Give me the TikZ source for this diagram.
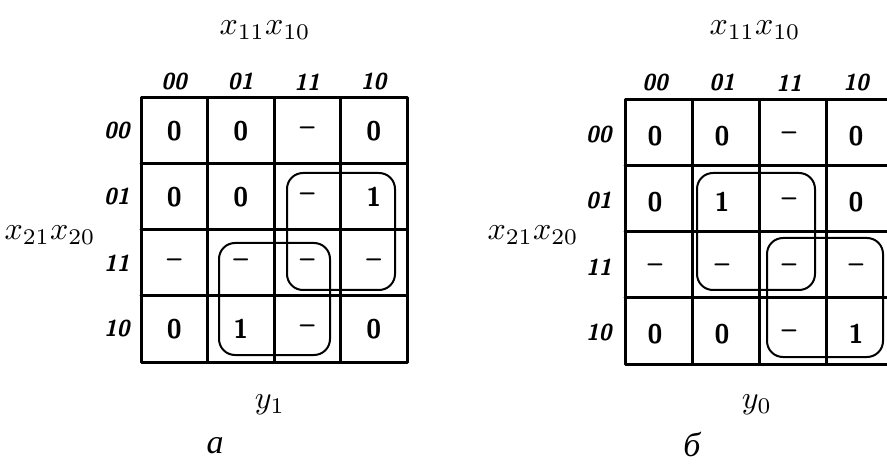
\documentclass[tikz,border=0pt]{standalone}
\usepackage{fontspec}
\newfontfamily\cyrfont{Liberation Serif}
\newcommand\dcare{\textendash}
\newcommand\bigvar[1]{\scalebox{3.2}{$#1$}}
\begin{document}
\begin{tikzpicture}[x=1pt,y=-1pt,line join=round,line cap=round,
	grid/.style={line width=3pt},
	kloop/.style={line width=2pt,rounded corners=16pt},
	cell/.style={font=\fontsize{27}{30}\selectfont\sffamily\bfseries},
	lab/.style={font=\fontsize{23}{26}\selectfont\sffamily\bfseries\itshape},
	mapcap/.style={font=\fontsize{34}{38}\selectfont\cyrfont\itshape}]
	\useasboundingbox (0,0) rectangle (887,465);
	% map a (y_1)
	\begin{scope}[shift={(141,98)}]
		\draw[grid] (0,0) rectangle (266,264);
		\foreach \i in {1,2,3}{
			\draw[grid] (\i*66.5,0)--(\i*66.5,264);
			\draw[grid] (0,\i*66)--(266,\i*66);
		}
		\foreach \v [count=\c from 0] in {00,01,11,10}{
			\node[lab] (a-c\c) at (\c*66.5+33,-16) {\v};
			\node[lab,anchor=east] (a-r\c) at (-8,\c*66+33) {\v};
		}
		\foreach \row [count=\r from 0] in {{0,0,\dcare,0},{0,0,\dcare,1},{\dcare,\dcare,\dcare,\dcare},{0,1,\dcare,0}}
		\foreach \v [count=\c from 0] in \row
		\node[cell] (a-\r\c) at (\c*66.5+33.25,\r*66+33) {\v};
		\draw[kloop] (146,75) rectangle (254,192);
		\draw[kloop] (78,145) rectangle (189,257);
	\end{scope}
	\node (a-top) at (265,30) {\bigvar{x_{11}x_{10}}};
	\node (a-left) at (50,235) {\bigvar{x_{21}x_{20}}};
	\node (a-out) at (270,405) {\bigvar{y_1}};
	\node[mapcap] (a-cap) at (215,446) {а};
	% map b (y_0)
	\begin{scope}[shift={(625,100)}]
		\draw[grid] (0,0) rectangle (268,264);
		\foreach \i in {1,2,3}{
			\draw[grid] (\i*67,0)--(\i*67,264);
			\draw[grid] (0,\i*66)--(268,\i*66);
		}
		\foreach \v [count=\c from 0] in {00,01,11,10}{
			\node[lab] (b-c\c) at (\c*67+30,-17) {\v};
			\node[lab,anchor=east] (b-r\c) at (-10,\c*66+35) {\v};
		}
		\foreach \row [count=\r from 0] in {{0,0,\dcare,0},{0,1,\dcare,0},{\dcare,\dcare,\dcare,\dcare},{0,0,\dcare,1}}
		\foreach \v [count=\c from 0] in \row
		\node[cell] (b-\r\c) at (\c*67+30,\r*66+36) {\v};
		\draw[kloop] (72,73) rectangle (190,190);
		\draw[kloop] (142,138) rectangle (258,257);
	\end{scope}
	\node (b-top) at (755,30) {\bigvar{x_{11}x_{10}}};
	\node (b-left) at (533,235) {\bigvar{x_{21}x_{20}}};
	\node (b-out) at (757,405) {\bigvar{y_0}};
	\node[mapcap] (b-cap) at (692,444) {б};
\end{tikzpicture}
\end{document}
